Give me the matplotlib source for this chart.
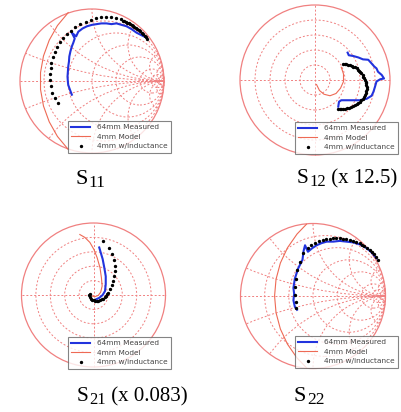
import numpy as np
import matplotlib
matplotlib.use("Agg")
import matplotlib.pyplot as plt
from matplotlib.patches import Circle
from matplotlib.lines import Line2D

# ---- data (reflection coefficient, normalised to chart radius) ----
s11_meas_re = [0.74, 0.68, 0.62, 0.55, 0.48, 0.41, 0.34, 0.27, 0.20, 0.13, 0.065, 0.0, -0.07, -0.13, -0.19, -0.22, -0.28, -0.24,
               -0.26, -0.28, -0.30, -0.315, -0.32, -0.33, -0.335, -0.34, -0.335, -0.33, -0.305, -0.28]
s11_meas_im = [0.61, 0.64, 0.67, 0.72, 0.76, 0.78, 0.80, 0.79, 0.80, 0.80, 0.79, 0.78, 0.76, 0.73, 0.685, 0.62, 0.67, 0.59,
               0.53, 0.48, 0.41, 0.34, 0.27, 0.20, 0.13, 0.06, -0.01, -0.055, -0.125, -0.19]
s11_ind_re = [0.77, 0.75, 0.73, 0.71, 0.69, 0.67, 0.65, 0.63, 0.61, 0.59, 0.57, 0.55, 0.53, 0.51, 0.49, 0.47, 0.45, 0.43, 0.40,
              0.33, 0.26, 0.19, 0.12, 0.05, -0.02, -0.09, -0.16, -0.23, -0.29, -0.35, -0.40, -0.45, -0.49, -0.52,
              -0.545, -0.565, -0.575, -0.58, -0.58, -0.57, -0.55, -0.51, -0.47]
s11_ind_im = [0.58, 0.605, 0.63, 0.65, 0.67, 0.69, 0.705, 0.72, 0.735, 0.75, 0.765, 0.775, 0.79, 0.80, 0.81, 0.82, 0.83, 0.84, 0.855,
              0.875, 0.885, 0.89, 0.885, 0.87, 0.85, 0.82, 0.785, 0.745, 0.70, 0.65, 0.595, 0.535, 0.47, 0.40,
              0.33, 0.255, 0.18, 0.10, 0.02, -0.07, -0.16, -0.24, -0.31]
s11_model_re = [-0.33, -0.48, -0.594, -0.674, -0.715, -0.715, -0.674, -0.594, -0.48, -0.33]
s11_model_im = [0.95, 0.77, 0.567, 0.347, 0.117, -0.117, -0.347, -0.567, -0.77, -0.95]

s12_meas_re = [0.435, 0.45, 0.51, 0.58, 0.64, 0.71, 0.755, 0.79, 0.82, 0.84, 0.89, 0.92, 0.87, 0.82, 0.80, 0.78, 0.755,
               0.69, 0.60, 0.51, 0.42, 0.35, 0.32, 0.31]
s12_meas_im = [0.365, 0.33, 0.32, 0.30, 0.275, 0.27, 0.22, 0.18, 0.155, 0.11, 0.067, 0.02, 0.01, -0.02, -0.09, -0.155, -0.21,
               -0.25, -0.27, -0.27, -0.27, -0.27, -0.29, -0.355]
s12_ind_re = [0.38, 0.40, 0.42, 0.445, 0.47, 0.49, 0.51, 0.535, 0.56, 0.575, 0.59, 0.605, 0.62, 0.635, 0.645, 0.66, 0.67,
              0.675, 0.68, 0.685, 0.69, 0.688, 0.685, 0.678, 0.67, 0.655, 0.64, 0.62, 0.60, 0.58, 0.555, 0.53, 0.51,
              0.485, 0.46, 0.43, 0.40, 0.375, 0.35, 0.33, 0.31]
s12_ind_im = [0.22, 0.215, 0.21, 0.205, 0.20, 0.19, 0.18, 0.168, 0.155, 0.14, 0.125, 0.108, 0.09, 0.068, 0.045, 0.022, 0.0,
              -0.022, -0.045, -0.068, -0.09, -0.118, -0.145, -0.172, -0.20, -0.225, -0.25, -0.27, -0.29, -0.308, -0.325,
              -0.338, -0.35, -0.36, -0.37, -0.375, -0.38, -0.383, -0.385, -0.388, -0.39]
s12_model_re = [0.02, 0.06, 0.12, 0.20, 0.28, 0.34, 0.38, 0.38, 0.35]
s12_model_im = [-0.06, -0.14, -0.19, -0.21, -0.18, -0.11, -0.02, 0.08, 0.17]

s21_meas_re = [0.08, 0.10, 0.127, 0.15, 0.17, 0.17, 0.16, 0.127, 0.08, 0.035]
s21_meas_im = [0.66, 0.59, 0.50, 0.38, 0.26, 0.15, 0.055, 0.0, -0.04, -0.06]
s21_ind_re = [-0.05, -0.06, -0.05, -0.04, -0.02, 0.0, 0.02, 0.044, 0.065, 0.09, 0.115, 0.137, 0.155, 0.17, 0.19, 0.206,
              0.23, 0.25, 0.275, 0.29, 0.30, 0.30, 0.285, 0.26, 0.22, 0.137]
s21_ind_im = [0.02, 0.0, -0.03, -0.05, -0.065, -0.075, -0.08, -0.083, -0.08, -0.074, -0.062, -0.05, -0.032, -0.014, 0.01, 0.032,
              0.08, 0.134, 0.194, 0.26, 0.33, 0.40, 0.486, 0.565, 0.657, 0.75]
s21_model_re = [-0.19, -0.12, -0.05, 0.007, 0.05, 0.09, 0.11, 0.12, 0.10, 0.067, 0.02, -0.025]
s21_model_im = [0.84, 0.80, 0.73, 0.63, 0.52, 0.38, 0.24, 0.125, 0.04, -0.005, -0.023, -0.014]

s22_meas_re = [0.876, 0.81, 0.74, 0.65, 0.55, 0.46, 0.37, 0.28, 0.19, 0.12, 0.05, -0.01, -0.07, -0.11, -0.13, -0.145, -0.205,
               -0.25, -0.27, -0.26, -0.27, -0.25, -0.22]
s22_meas_im = [0.52, 0.60, 0.66, 0.71, 0.74, 0.75, 0.76, 0.75, 0.75, 0.73, 0.70, 0.66, 0.61, 0.70, 0.62, 0.50, 0.38,
               0.24, 0.11, 0.03, -0.06, -0.15, -0.19]
s22_ind_re = [0.90, 0.87, 0.84, 0.81, 0.78, 0.75, 0.71, 0.68, 0.645, 0.60, 0.55, 0.51, 0.46, 0.41, 0.37, 0.32, 0.28,
              0.23, 0.18, 0.14, 0.08, 0.025, -0.025, -0.07, -0.135, -0.18, -0.22, -0.24, -0.25, -0.25, -0.24, -0.23]
s22_ind_im = [0.50, 0.54, 0.575, 0.61, 0.64, 0.665, 0.69, 0.71, 0.73, 0.745, 0.76, 0.77, 0.78, 0.79, 0.795, 0.80, 0.795,
              0.79, 0.785, 0.77, 0.755, 0.735, 0.70, 0.66, 0.59, 0.47, 0.36, 0.24, 0.13, 0.02, -0.08, -0.17]
s22_model_re = [-0.09, -0.22, -0.352, -0.45, -0.51, -0.53, -0.51, -0.45, -0.352, -0.22, -0.09]
s22_model_im = [0.99, 0.855, 0.665, 0.455, 0.23, 0.0, -0.23, -0.455, -0.665, -0.855, -0.99]

legend_labels = ["64mm Measured", "4mm Model", "4mm w/inductance"]

W, H = 402, 412
fig = plt.figure(figsize=(W / 100, H / 100), dpi=100)
fig.patch.set_facecolor("white")

grid_c = "#f08080"
model_c = "#ee6a55"
meas_c = "#2233dd"
dash = (0, (2.0, 2.0))


def panel(cx, cy, R):
    pad = 1.1
    ax = fig.add_axes([(cx - R * pad) / W, 1 - (cy + R * pad) / H, 2 * R * pad / W, 2 * R * pad / H])
    ax.set_xlim(-pad, pad)
    ax.set_ylim(-pad, pad)
    ax.axis("off")
    return ax


def smith_grid(ax):
    clip = Circle((0, 0), 1, transform=ax.transData)
    for r in [0.2, 0.5, 1, 2, 5, 10, 20]:
        c = Circle((r / (1 + r), 0), 1 / (1 + r), fill=False, ec=grid_c, lw=0.7, ls=dash)
        ax.add_patch(c)
    for x in [0.2, 0.5, 1, 2, 5, 10, 20]:
        for s in (1, -1):
            c = Circle((1, s / x), 1 / x, fill=False, ec=grid_c, lw=0.7, ls=dash)
            ax.add_patch(c)
            c.set_clip_path(clip)
    ax.plot([-1, 1], [0, 0], color=grid_c, lw=0.7, ls=dash)
    ax.add_patch(Circle((0, 0), 1, fill=False, ec=grid_c, lw=0.9))


def polar_grid(ax):
    for r in [0.2, 0.4, 0.6, 0.8]:
        ax.add_patch(Circle((0, 0), r, fill=False, ec=grid_c, lw=0.7, ls=dash))
    ax.plot([-1, 1], [0, 0], color=grid_c, lw=0.7, ls=dash)
    ax.plot([0, 0], [-1, 1], color=grid_c, lw=0.7, ls=dash)
    ax.add_patch(Circle((0, 0), 1, fill=False, ec=grid_c, lw=0.9))


def traces(ax, mre, mim, ire, iim, ore, oim):
    ax.plot(ore, oim, color=model_c, lw=0.8)
    ax.plot(mre, mim, color=meas_c, lw=1.5)
    ax.plot(ire, iim, ls="none", marker="o", ms=1.4, color="black")


def legend(ax, x0, y0):
    h = [Line2D([], [], color=meas_c, lw=1.5),
         Line2D([], [], color=model_c, lw=0.8),
         Line2D([], [], ls="none", marker="o", ms=1.4, color="black")]
    leg = ax.legend(h, legend_labels, loc="upper left", bbox_to_anchor=(x0 / W, 1 - y0 / H),
                    bbox_transform=fig.transFigure, fontsize=5.3, frameon=True, fancybox=False,
                    borderpad=0.45, labelspacing=0.45, handlelength=2.6, handletextpad=0.9,
                    borderaxespad=0)
    leg.get_frame().set_edgecolor("#666666")
    leg.get_frame().set_linewidth(0.8)
    for t in leg.get_texts():
        t.set_color("#444444")


def label(x, y, parts):
    r = fig.canvas.get_renderer()
    for txt, size, dy in parts:
        t = fig.text(x / W, 1 - (y + dy) / H, txt, fontsize=size, family="Liberation Serif",
                     ha="left", va="baseline")
        x = t.get_window_extent(r).x1 + 0.5


ax = panel(92, 81, 72)
smith_grid(ax)
traces(ax, s11_meas_re, s11_meas_im, s11_ind_re, s11_ind_im, s11_model_re, s11_model_im)
legend(ax, 68, 121)

ax = panel(315, 80, 75)
polar_grid(ax)
traces(ax, s12_meas_re, s12_meas_im, s12_ind_re, s12_ind_im, s12_model_re, s12_model_im)
legend(ax, 295, 122)

ax = panel(93.5, 295, 72)
polar_grid(ax)
traces(ax, s21_meas_re, s21_meas_im, s21_ind_re, s21_ind_im, s21_model_re, s21_model_im)
legend(ax, 68, 337)

ax = panel(313, 296, 72.5)
smith_grid(ax)
traces(ax, s22_meas_re, s22_meas_im, s22_ind_re, s22_ind_im, s22_model_re, s22_model_im)
legend(ax, 295, 336)

label(76, 184, [("S", 16, 0), ("11", 12.5, 3)])
label(297, 183, [("S", 15.5, 0), ("12", 12, 3), (" (x 12.5)", 15, 0)])
label(77, 401, [("S", 15.5, 0), ("21", 12, 3), (" (x 0.083)", 15, 0)])
label(294, 401, [("S", 16, 0), ("22", 12.5, 3)])

fig.savefig("out.png", dpi=100, facecolor="white")
